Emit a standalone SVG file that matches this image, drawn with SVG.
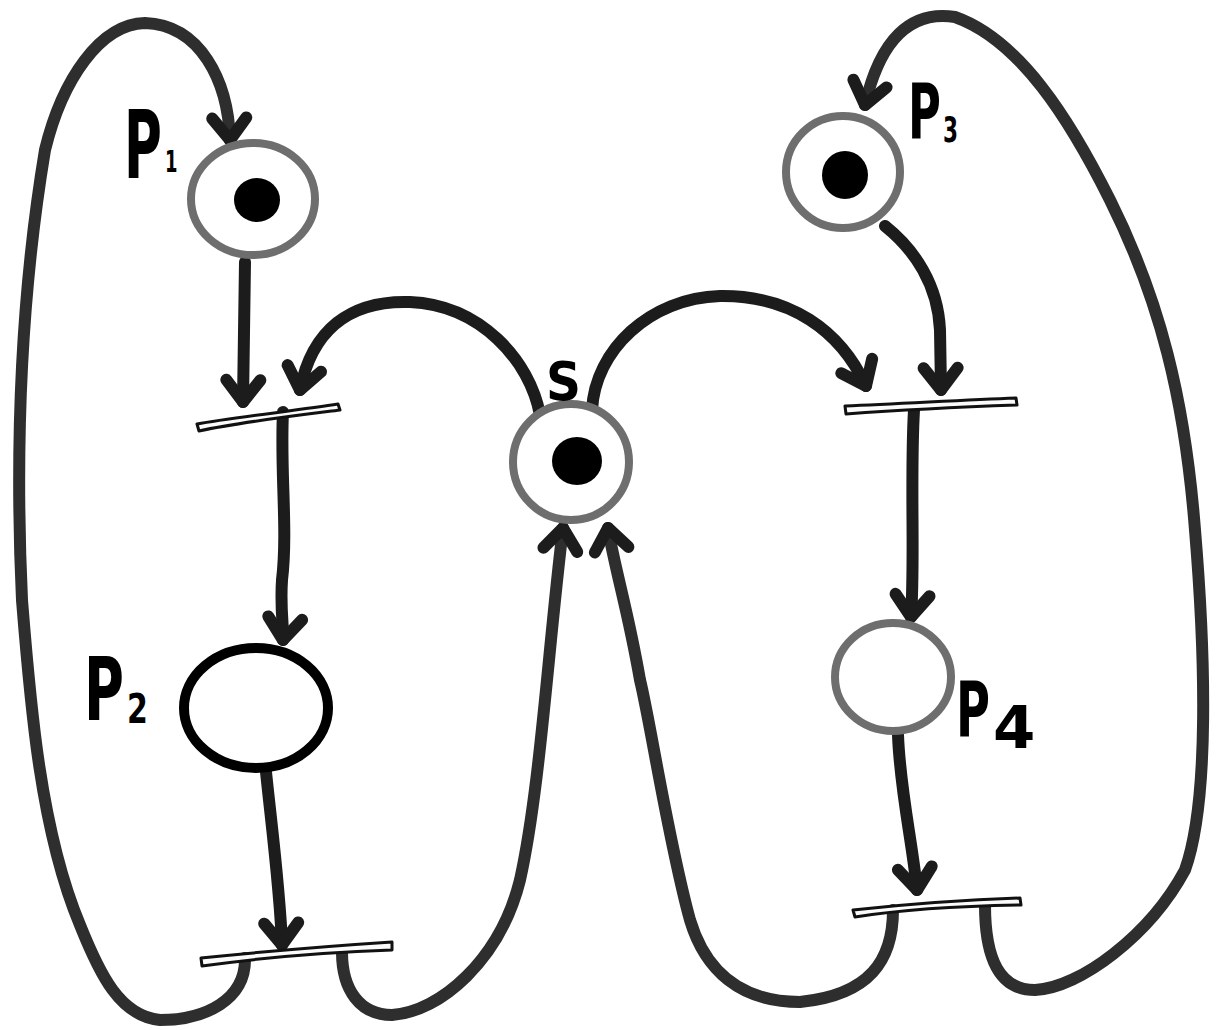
<svg xmlns="http://www.w3.org/2000/svg" width="1217" height="1030" viewBox="0 0 1217 1030">
<defs>
<style>
.arc{fill:none;stroke:#1c1c1c;stroke-width:12;stroke-linecap:round;stroke-linejoin:round}
.loop{fill:none;stroke:#2e2e2e;stroke-width:12;stroke-linecap:round;stroke-linejoin:round}
.place{fill:#fff;stroke:#6e6e6e;stroke-width:8}
.placeb{fill:#fff;stroke:#000;stroke-width:10}
.token{fill:#000}
.trans{fill:#fbfbfb;stroke:#111;stroke-width:3;stroke-linejoin:round}
.lbl{font-family:"DejaVu Sans","Liberation Sans",sans-serif;font-weight:bold;fill:#000}
</style>
<marker id="ah" markerUnits="userSpaceOnUse" markerWidth="50" markerHeight="50" viewBox="-35 -25 50 50" refX="0" refY="0" orient="auto">
<path d="M-22,-17 L0,0 L-22,17" fill="none" stroke="#1c1c1c" stroke-width="12" stroke-linecap="round" stroke-linejoin="round"/>
</marker>
</defs>
<rect width="1217" height="1030" fill="#fff"/>
<g id="connectors">
<path class="arc" d="M245,262 L243,402" marker-end="url(#ah)"/>
<path class="arc" d="M540,415 C530,360 480,305 410,302 C350,300 312,330 300,390" marker-end="url(#ah)"/>
<path class="arc" d="M283,412 C280,470 288,530 282,580 C280,610 284,630 283,640" marker-end="url(#ah)"/>
<path class="arc" d="M266,772 C272,830 280,890 282,945" marker-end="url(#ah)"/>
<path class="arc" d="M592,410 C595,350 650,298 720,296 C790,295 840,330 866,386" marker-end="url(#ah)"/>
<path class="arc" d="M885,226 C915,250 938,285 940,330 L941,390" marker-end="url(#ah)"/>
<path class="arc" d="M914,410 C910,480 915,560 911,617" marker-end="url(#ah)"/>
<path class="arc" d="M898,735 C900,790 912,840 917,890" marker-end="url(#ah)"/>
<path class="loop" d="M245,958 C246,1000 205,1020 160,1020 C120,1016 100,975 80,925 C40,830 30,700 22,600 C15,450 20,300 45,150 C62,80 100,24 145,23 C200,25 228,80 230,140" marker-end="url(#ah)"/>
<path class="loop" d="M342,952 C342,990 360,1015 392,1015 C440,1012 500,960 520,880 C540,790 548,650 563,528" marker-end="url(#ah)"/>
<path class="loop" d="M893,910 C893,960 870,995 800,1002 C740,1002 705,970 690,920 C668,840 650,720 640,680 C628,610 615,570 608,528" marker-end="url(#ah)"/>
<path class="loop" d="M985,905 C985,960 1000,990 1035,990 C1080,988 1150,935 1185,870 C1210,800 1205,650 1195,530 C1185,400 1160,300 1110,200 C1070,120 1020,40 955,17 C910,10 880,40 865,105" marker-end="url(#ah)"/>
</g>
<g id="T1"><path class="trans" d="M197,424 C230,418 300,410 338,404 L340,410 C300,415 240,422 199,431 Z"/></g>
<g id="T2"><path class="trans" d="M845,406 C900,404 960,400 1016,398 L1017,405 C960,407 900,410 846,414 Z"/></g>
<g id="T3"><path class="trans" d="M201,958 C260,952 330,946 392,942 L392,950 C330,952 260,958 202,966 Z"/></g>
<g id="T4"><path class="trans" d="M853,910 C900,905 960,900 1020,898 L1021,905 C960,906 900,910 855,917 Z"/></g>
<g id="P1"><ellipse class="place" cx="253" cy="199" rx="62" ry="56"/><ellipse class="token" cx="257" cy="200" rx="23" ry="22"/>
<text class="lbl" transform="translate(124,178) scale(0.55,1)" font-size="94">P</text>
<text class="lbl" transform="translate(165,172) scale(0.6,1)" font-size="30">1</text></g>
<g id="P3"><ellipse class="place" cx="843" cy="172" rx="57" ry="56"/><ellipse class="token" cx="845" cy="175" rx="23" ry="24"/>
<text class="lbl" transform="translate(908,138) scale(0.59,1)" font-size="76">P</text>
<text class="lbl" transform="translate(943,142) scale(0.6,1)" font-size="36">3</text></g>
<g id="S"><ellipse class="place" cx="571" cy="462" rx="58" ry="58"/><ellipse class="token" cx="577" cy="461" rx="25" ry="24"/>
<text class="lbl" transform="translate(546,400) scale(0.9,1)" font-size="54">S</text></g>
<g id="P2"><ellipse class="placeb" cx="256" cy="708" rx="72" ry="60"/>
<text class="lbl" transform="translate(84,720) scale(0.62,1)" font-size="88">P</text>
<text class="lbl" transform="translate(127,723) scale(0.75,1)" font-size="40">2</text></g>
<g id="P4"><ellipse class="place" cx="893" cy="677" rx="58" ry="54"/>
<text class="lbl" transform="translate(956,736) scale(0.61,1)" font-size="76">P</text>
<text class="lbl" transform="translate(993,748) scale(1.05,1)" font-size="58">4</text></g>
</svg>
